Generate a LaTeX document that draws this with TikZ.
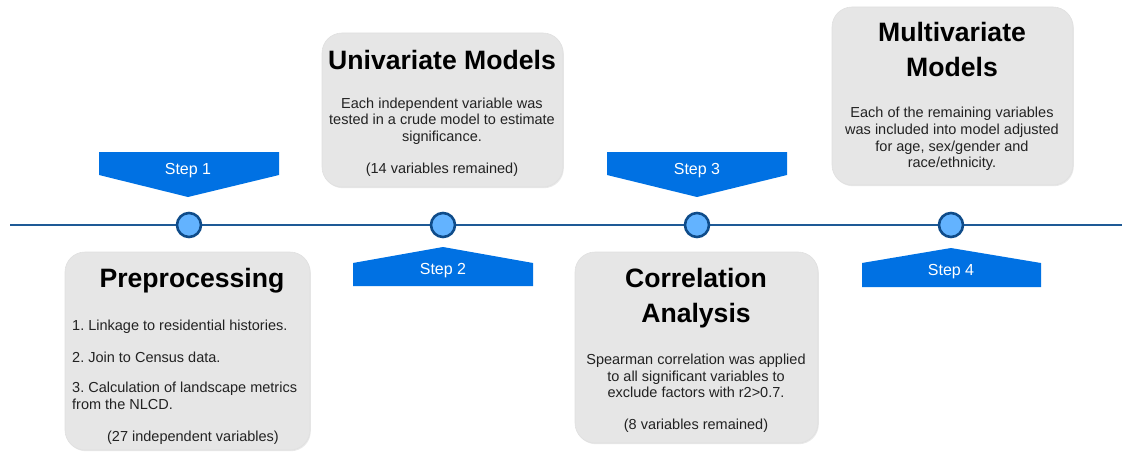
\documentclass[tikz,border=0pt]{standalone}
\usepackage{fontspec}
\setmainfont{Liberation Sans}
\usetikzlibrary{shadows}
\frenchspacing
\definecolor{stepblue}{HTML}{0071E3}
\definecolor{linecol}{HTML}{1E5A96}
\definecolor{dotfill}{HTML}{63B3FF}
\definecolor{dotline}{HTML}{0F4C8A}
\definecolor{boxfill}{HTML}{E6E6E6}
\definecolor{bodytxt}{HTML}{222222}
\tikzset{
  card/.style={draw=black!12, line width=0.6pt, fill=boxfill, rounded corners=20pt, inner sep=0pt, outer sep=0pt,
    drop shadow={opacity=0.18, shadow xshift=0.8pt, shadow yshift=-1.2pt}},
  title/.style={font=\fontsize{26.6}{35}\selectfont\bfseries\frenchspacing, align=center, inner sep=0pt, text=black},
  body/.style={font=\fontsize{14.5}{16.7}\selectfont\frenchspacing, align=center, inner sep=0pt, text=bodytxt},
  bodyl/.style={font=\fontsize{14.5}{16.7}\selectfont\frenchspacing, align=left, inner sep=0pt, text=bodytxt, anchor=west},
  steplbl/.style={font=\fontsize{16}{19}\selectfont, text=white, inner sep=0pt},
  arrowshape/.style={fill=stepblue, draw=none},
  dot/.style={circle, minimum size=24pt, inner sep=0pt, fill=dotfill, draw=dotline, line width=2.6pt},
}
\begin{document}
\begin{tikzpicture}[x=1pt, y=-1pt]
\useasboundingbox (0,0) rectangle (1122,452);
% timeline
\coordinate (tl) at (10,225);
\coordinate (tr) at (1122,225);
\draw[linecol, line width=2.5pt] (tl) -- (tr);
\node[dot] (d1) at (189,225) {};
\node[dot] (d2) at (443,225) {};
\node[dot] (d3) at (697,225) {};
\node[dot] (d4) at (951,225) {};

% step arrows
\fill[arrowshape] (99,152) -- (279,152) -- (279,175) -- (188,197) -- (99,175) -- cycle;
\node[steplbl] (s1) at (188,171) {Step 1};
\fill[arrowshape] (353,286) -- (533,286) -- (533,263) -- (443,247) -- (353,263) -- cycle;
\node[steplbl] (s2) at (443,271) {Step 2};
\fill[arrowshape] (607,152) -- (787,152) -- (787,175) -- (697,197) -- (607,175) -- cycle;
\node[steplbl] (s3) at (697,171) {Step 3};
\fill[arrowshape] (862,287) -- (1041,287) -- (1041,263) -- (951,248) -- (862,263) -- cycle;
\node[steplbl] (s4) at (951,272) {Step 4};

% cards
\node[card, minimum width=245pt, minimum height=198pt] (pre) at (187.5,351) {};
\node[card, minimum width=241pt, minimum height=154pt] (uni) at (442.5,110) {};
\node[card, minimum width=243pt, minimum height=191pt] (cor) at (696.5,347.5) {};
\node[card, minimum width=241pt, minimum height=178pt] (mul) at (952.5,96) {};

% Preprocessing
\node[title] (preT) at (192,281) {Preprocessing};
\node[bodyl] (p1) at (72,327) {1. Linkage to residential histories.};
\node[bodyl] (p2) at (72,357) {2. Join to Census data.};
\node[bodyl] (p3) at (72,396) {3. Calculation of landscape metrics\\from the NLCD.};
\node[body] (p4) at (193,438) {(27 independent variables)};

% Univariate
\node[title] (uniT) at (442,60) {Univariate Models};
\node[body] (u1) at (442,121) {Each independent variable was\\tested in a crude model to estimate\\significance.};
\node[body] (u2) at (442,170) {(14 variables remained)};

% Correlation
\node[title] (corT) at (696,298) {Correlation\\Analysis};
\node[body] (c1) at (696,376) {Spearman correlation was applied\\to all significant variables to\\exclude factors with r2>0.7.};
\node[body] (c2) at (696,426) {(8 variables remained)};

% Multivariate
\node[title] (mulT) at (952,49.5) {Multivariate\\Models};
\node[body] (m1) at (952,139) {Each of the remaining variables\\was included into model adjusted\\for age, sex/gender and\\race/ethnicity.};
\end{tikzpicture}
\end{document}
